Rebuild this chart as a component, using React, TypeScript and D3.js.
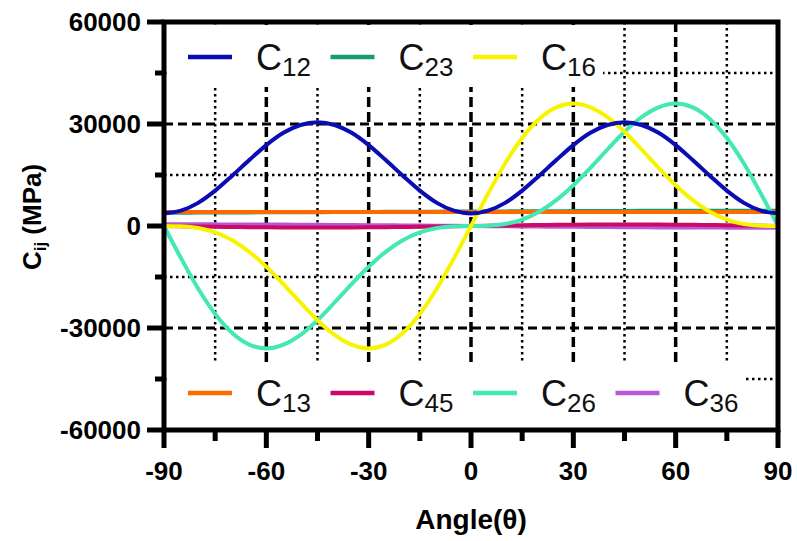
import React from 'react';
import * as d3 from 'd3';

// angle (deg) and stiffness values
const angles = [-90, -85, -80, -75, -70, -65, -60, -55, -50, -45, -40, -35, -30, -25, -20, -15, -10, -5, 0,
  5, 10, 15, 20, 25, 30, 35, 40, 45, 50, 55, 60, 65, 70, 75, 80, 85, 90];

const c12 = [3700, 4500, 6800, 10400, 14800, 19400, 23800, 27400, 29700, 30500, 29700, 27400, 23800, 19400, 14800, 10400, 6800, 4500, 3700,
  4500, 6800, 10400, 14800, 19400, 23800, 27400, 29700, 30500, 29700, 27400, 23800, 19400, 14800, 10400, 6800, 4500, 3700];
const c23 = [3900, 3920, 3940, 3960, 3980, 4000, 4020, 4040, 4060, 4080, 4100, 4120, 4140, 4160, 4180, 4200, 4220, 4240, 4260,
  4280, 4300, 4320, 4340, 4360, 4380, 4400, 4420, 4440, 4460, 4480, 4500, 4500, 4500, 4500, 4500, 4500, 4500];
const c16 = [0, -100, -600, -1900, -4200, -7600, -12000, -17100, -22500, -27700, -32000, -34900, -36000, -34900, -31500, -25900, -18400, -9500, 0,
  9500, 18400, 25900, 31500, 34900, 36000, 34900, 32000, 27700, 22500, 17100, 12000, 7600, 4200, 1900, 600, 100, 0];
const c13 = [4100, 4100, 4100, 4100, 4100, 4100, 4100, 4100, 4100, 4100, 4100, 4100, 4100, 4100, 4100, 4100, 4100, 4100, 4100,
  4100, 4100, 4100, 4100, 4100, 4100, 4100, 4100, 4100, 4100, 4100, 4100, 4100, 4100, 4100, 4100, 4100, 4100];
const c45 = [0, -80, -150, -230, -290, -350, -390, -420, -440, -450, -440, -420, -390, -350, -290, -230, -150, -80, 0,
  80, 150, 230, 290, 350, 390, 420, 440, 450, 440, 420, 390, 350, 290, 230, 150, 80, 0];
const c26 = [0, -9500, -18400, -25900, -31500, -34900, -36000, -34900, -32000, -27700, -22500, -17100, -12000, -7600, -4200, -1900, -600, -100, 0,
  100, 600, 1900, 4200, 7600, 12000, 17100, 22500, 27700, 32000, 34900, 36000, 34900, 31500, 25900, 18400, 9500, 0];
const c36 = [500, 500, 490, 480, 470, 450, 430, 410, 380, 350, 320, 290, 250, 210, 170, 130, 90, 40, 0,
  -40, -90, -130, -170, -210, -250, -290, -320, -350, -380, -410, -430, -450, -470, -480, -490, -500, -500];

const xTicks = [-90, -60, -30, 0, 30, 60, 90];
const xMinor = [-75, -45, -15, 15, 45, 75];
const yTicks = [-60000, -30000, 0, 30000, 60000];
const yMinor = [-45000, -15000, 15000, 45000];

const series = [
  { name: '23', values: c23, color: '#1a9c6c' },
  { name: '13', values: c13, color: '#ff6a00' },
  { name: '36', values: c36, color: '#b857d8' },
  { name: '45', values: c45, color: '#cc0a66' },
  { name: '26', values: c26, color: '#44e8b2' },
  { name: '16', values: c16, color: '#f8f400' },
  { name: '12', values: c12, color: '#0a0cb4' },
];
const topLegend = ['12', '23', '16'];
const bottomLegend = ['13', '45', '26', '36'];

const W = 797, H = 541;
const left = 164, right = 778, top = 22, bottom = 430;

export default function App() {
  const x = d3.scaleLinear().domain([-90, 90]).range([left, right]);
  const y = d3.scaleLinear().domain([-60000, 60000]).range([bottom, top]);
  const line = d3.line<number>()
    .x((_, i) => x(angles[i]))
    .y((d) => y(d))
    .curve(d3.curveMonotoneX);

  const byName = (n: string) => series.find((s) => s.name === n)!;
  const bold = { fontFamily: 'Liberation Sans, Arial, sans-serif', fontWeight: 700 };

  const legendRow = (names: string[], cy: number) =>
    names.map((n, i) => {
      const s = byName(n);
      const x0 = 188 + i * 142.5;
      return (
        <g key={n}>
          <line x1={x0} x2={x0 + 44} y1={cy} y2={cy} stroke={s.color} strokeWidth={4.5} />
          <text x={x0 + 68} y={cy + 13} fontSize={36} fontFamily="Liberation Sans, Arial, sans-serif" fill="#111">
            C<tspan fontSize={26} dy={6}>{n}</tspan>
          </text>
        </g>
      );
    });

  return (
    <svg width={W} height={H} style={{ position: 'absolute', left: 0, top: 0, background: '#fff' }}>
      {/* grid */}
      {xTicks.slice(1, -1).map((t) => (
        <line key={'gx' + t} x1={x(t)} x2={x(t)} y1={top} y2={bottom} stroke="#000" strokeWidth={3.5} strokeDasharray="10 5" />
      ))}
      {xMinor.map((t) => (
        <line key={'mx' + t} x1={x(t)} x2={x(t)} y1={top} y2={bottom} stroke="#000" strokeWidth={2.5} strokeDasharray="2.5 3.5" />
      ))}
      {[-30000, 30000].map((t) => (
        <line key={'gy' + t} x1={left} x2={right} y1={y(t)} y2={y(t)} stroke="#000" strokeWidth={3} strokeDasharray="9 5" />
      ))}
      {yMinor.map((t) => (
        <line key={'my' + t} x1={left} x2={right} y1={y(t)} y2={y(t)} stroke="#000" strokeWidth={2.5} strokeDasharray="2.5 3.5" />
      ))}
      <line x1={left} x2={right} y1={y(0)} y2={y(0)} stroke="#000" strokeWidth={2.5} strokeDasharray="2.5 3.5" />

      {/* legend boxes */}
      <rect x={left + 3} y={top + 3} width={436} height={62} fill="#fff" />
      <rect x={left + 3} y={362} width={576} height={bottom - 364} fill="#fff" />

      {/* curves */}
      {series.map((s) => (
        <path key={s.name} d={line(s.values) || ''} fill="none" stroke={s.color} strokeWidth={4} />
      ))}

      {legendRow(topLegend, 57)}
      {legendRow(bottomLegend, 393)}

      {/* frame */}
      <rect x={left} y={top} width={right - left} height={bottom - top} fill="none" stroke="#000" strokeWidth={5} />

      {/* y ticks */}
      {yTicks.map((t) => (
        <g key={'yt' + t}>
          <line x1={left - 17} x2={left} y1={y(t)} y2={y(t)} stroke="#000" strokeWidth={5} />
          <text x={left - 23} y={y(t) + 9} textAnchor="end" fontSize={26} {...bold}>{t}</text>
        </g>
      ))}
      {yMinor.map((t) => (
        <line key={'ym' + t} x1={left - 9} x2={left} y1={y(t)} y2={y(t)} stroke="#000" strokeWidth={5} />
      ))}

      {/* x ticks */}
      {xTicks.map((t) => (
        <g key={'xt' + t}>
          <line x1={x(t)} x2={x(t)} y1={bottom} y2={bottom + 18} stroke="#000" strokeWidth={5} />
          <text x={x(t)} y={480} textAnchor="middle" fontSize={26} {...bold}>{t}</text>
        </g>
      ))}
      {xMinor.map((t) => (
        <line key={'xm' + t} x1={x(t)} x2={x(t)} y1={bottom} y2={bottom + 11} stroke="#000" strokeWidth={5} />
      ))}

      {/* axis titles */}
      <text x={471} y={529} textAnchor="middle" fontSize={28} {...bold}>Angle(θ)</text>
      <text transform="translate(41,217) rotate(-90)" textAnchor="middle" fontSize={26} {...bold}>
        C<tspan fontSize={17} dy={5}>ij</tspan><tspan dy={-5}> (MPa)</tspan>
      </text>
    </svg>
  );
}
